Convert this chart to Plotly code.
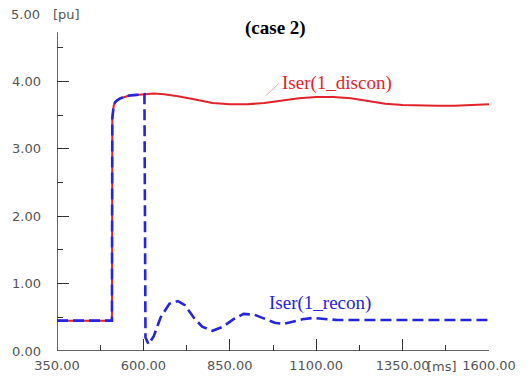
import plotly.graph_objects as go

# Iser(1_discon) - red solid
t_discon = [350, 509, 510, 511, 514, 518, 524, 534, 545, 560, 580, 600, 630, 660, 700, 750, 800,
            850, 900, 950, 1000, 1050, 1100, 1150, 1200, 1250, 1300, 1350, 1400, 1450, 1500, 1550, 1600]
i_discon = [0.45, 0.45, 3.45, 3.55, 3.64, 3.69, 3.72, 3.75, 3.77, 3.79, 3.80, 3.81, 3.82, 3.81, 3.78, 3.73, 3.68,
            3.66, 3.66, 3.68, 3.72, 3.75, 3.77, 3.77, 3.75, 3.71, 3.67, 3.65, 3.64, 3.64, 3.64, 3.65, 3.66]

# Iser(1_recon) - blue dashed
t_recon = [350, 509, 510, 511, 514, 518, 524, 534, 545, 560, 580, 600, 603, 606, 615, 630, 650, 675, 700,
           720, 745, 770, 800, 830, 860, 890, 920, 950, 980, 1005, 1030, 1060, 1090, 1120, 1160,
           1200, 1300, 1400, 1500, 1600]
i_recon = [0.45, 0.45, 3.45, 3.55, 3.64, 3.69, 3.72, 3.75, 3.77, 3.79, 3.80, 3.81, 3.81, 0.20, 0.10, 0.22, 0.50, 0.70, 0.74,
           0.68, 0.50, 0.36, 0.30, 0.36, 0.47, 0.55, 0.54, 0.48, 0.42, 0.40, 0.43, 0.47, 0.49, 0.48, 0.46,
           0.46, 0.46, 0.46, 0.46, 0.46]

x_ticks = [350, 600, 850, 1100, 1350, 1600]
x_ticklabels = ["350.00", "600.00", "850.00", "1100.00", "1350.00", "1600.00"]
y_ticks = [0, 1, 2, 3, 4]
y_ticklabels = ["0.00", "1.00", "2.00", "3.00", "4.00"]

RED = "#e3232b"
BLUE = "#2525e0"

W, H = 528, 385
pl, pr, pt, pb = 57, 31, 13.5, 33
pw, ph = W - pl - pr, H - pt - pb


def px(x):
    return (x - pl) / pw


def py(y):
    return (H - pb - y) / ph


fig = go.Figure()
fig.add_trace(go.Scatter(x=t_discon, y=i_discon, mode="lines",
                         line=dict(color=RED, width=2), showlegend=False))
fig.add_trace(go.Scatter(x=t_recon, y=i_recon, mode="lines",
                         line=dict(color=BLUE, width=2.6, dash="11px,5px"), showlegend=False))

tickfont = dict(family="DejaVu Sans", size=13, color="#555555")
serif = "Liberation Serif, Times New Roman"

fig.update_layout(
    width=W, height=H,
    margin=dict(l=pl, r=pr, t=pt, b=pb),
    paper_bgcolor="white", plot_bgcolor="white",
    xaxis=dict(range=[350, 1600], tickvals=x_ticks, ticktext=x_ticklabels,
               ticks="inside", ticklen=12, tickcolor="#333", showgrid=False, zeroline=False,
               showline=False, tickfont=tickfont, ticklabelstandoff=5,
               minor=dict(dtick=125, tick0=350, ticks="inside", ticklen=6, tickcolor="#333")),
    yaxis=dict(range=[0, 5], tickvals=y_ticks, ticktext=y_ticklabels,
               ticks="inside", ticklen=12, tickcolor="#333", showgrid=False, zeroline=False,
               showline=False, tickfont=tickfont, ticklabelstandoff=15,
               minor=dict(tickvals=[0.5, 1.5, 2.5, 3.5, 4.5], ticks="inside", ticklen=6, tickcolor="#333")),
    shapes=[
        dict(type="line", xref="x", yref="y", x0=350, x1=1620, y0=0, y1=0,
             line=dict(color="#333", width=1.5)),
        dict(type="line", xref="x", yref="y", x0=350, x1=350, y0=0, y1=4.73,
             line=dict(color="#333", width=1.5)),
        dict(type="line", xref="x", yref="y", x0=992, x1=955, y0=3.97, y1=3.79,
             line=dict(color="#f2a8b0", width=1)),
    ],
    annotations=[
        dict(text="<b>(case 2)</b>", x=px(280), y=py(28), xref="paper", yref="paper",
             xanchor="center", yanchor="middle", showarrow=False,
             font=dict(family=serif, size=19, color="black")),
        dict(text="Iser(1_discon)", x=px(284), y=py(83), xref="paper", yref="paper",
             xanchor="left", yanchor="middle", showarrow=False,
             font=dict(family=serif, size=19, color=RED)),
        dict(text="Iser(1_recon)", x=px(271), y=py(304), xref="paper", yref="paper",
             xanchor="left", yanchor="middle", showarrow=False,
             font=dict(family=serif, size=19, color=BLUE)),
        dict(text="5.00", x=px(42), y=py(14), xref="paper", yref="paper",
             xanchor="right", yanchor="middle", showarrow=False, font=tickfont),
        dict(text="[pu]", x=px(51), y=py(14), xref="paper", yref="paper",
             xanchor="left", yanchor="middle", showarrow=False, font=tickfont),
        dict(text="[ms]", x=px(432), y=py(368), xref="paper", yref="paper",
             xanchor="left", yanchor="middle", showarrow=False, font=tickfont),
    ],
)

fig.write_html("out.html", config={"displayModeBar": False},
               post_script="document.body.style.margin='0';")
